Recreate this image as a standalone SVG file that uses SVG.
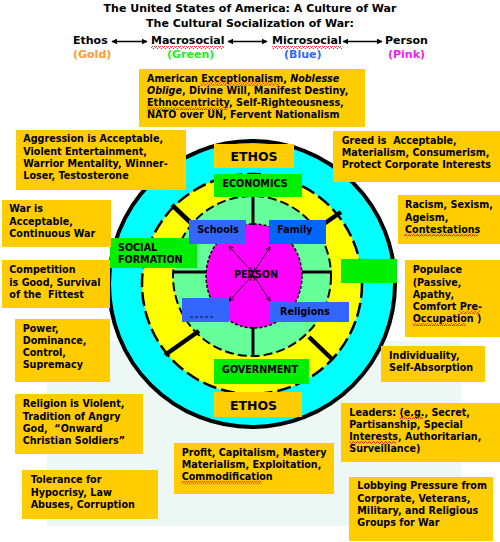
<svg xmlns="http://www.w3.org/2000/svg" width="500" height="542" viewBox="0 0 500 542">
<defs>
<style>
text{font-family:"DejaVu Sans","Verdana",sans-serif;font-weight:bold;fill:#000}
.t{font-size:11px}
.b{font-size:9.6px}
.eth{font-size:12.5px}
.gold{fill:#FFCC00}
.grn{fill:#00EE00}
.blu{fill:#3366FF}
.it{font-style:italic}
.sq{fill:url(#sq)}
.conn line{stroke:#000}
</style>
<pattern id="sq" width="4" height="3" patternUnits="userSpaceOnUse">
<path d="M0,2.4 L1,0.6 L2,0.6 L3,2.4 L4,2.4" stroke="#e01010" stroke-width="0.8" fill="none"/>
</pattern>
<marker id="ah" viewBox="0 0 10 10" refX="9" refY="5" markerWidth="6" markerHeight="6" markerUnits="userSpaceOnUse" orient="auto-start-reverse">
<path d="M0,0 L10,5 L0,10 z" fill="#000"/>
</marker>
<marker id="sh" viewBox="0 0 10 10" refX="9" refY="5" markerWidth="5" markerHeight="5" markerUnits="userSpaceOnUse" orient="auto-start-reverse">
<path d="M0,1 L10,5 L0,9" fill="none" stroke="#000" stroke-width="1.6"/>
</marker>
</defs>

<rect x="47" y="341" width="414" height="185" fill="#EDF8F4"/>

<g id="title">
<text class="t" x="250" y="12" text-anchor="middle">The United States of America: A Culture of War</text>
<text class="t" x="250" y="27" text-anchor="middle">The Cultural Socialization of War:</text>
</g>
<g id="legend-ethos"><text class="t" x="73" y="44.3">Ethos</text><text class="t" x="73" y="58.3" style="fill:#FF9933">(Gold)</text></g>
<g id="legend-macro"><text class="t" x="151" y="44.3">Macrosocial</text><rect class="sq" x="151" y="46" width="73" height="3"/><text class="t" x="167" y="58.3" style="fill:#22EE22">(Green)</text></g>
<g id="legend-micro"><text class="t" x="272" y="44.3">Microsocial</text><rect class="sq" x="272" y="46" width="70" height="3"/><text class="t" x="284" y="58.3" style="fill:#3366FF">(Blue)</text></g>
<g id="legend-person"><text class="t" x="385" y="44.3">Person</text><text class="t" x="388" y="58.3" style="fill:#EE22EE">(Pink)</text></g>

<g id="rings">
<circle cx="252" cy="284" r="143" fill="#00FFFF" stroke="#000" stroke-width="4"/>
<circle cx="252" cy="284" r="110" fill="#FFFF00"/>
<ellipse cx="252" cy="276" rx="79" ry="80" fill="#66FF99"/>
<ellipse cx="254" cy="276" rx="48" ry="52" fill="#FF00FF"/>
<g stroke="#000" stroke-width="3">
<line x1="253" y1="197" x2="253" y2="225"/>
<line x1="253" y1="327" x2="253" y2="357"/>
<line x1="174" y1="272" x2="206" y2="272"/>
<line x1="302" y1="272" x2="332" y2="272"/>
</g>
<g stroke="#000" stroke-width="4.5">
<line x1="172" y1="205" x2="191" y2="223"/>
<line x1="318" y1="228" x2="341" y2="212"/>
<line x1="165" y1="355" x2="199" y2="331"/>
<line x1="309" y1="337" x2="333" y2="360"/>
</g>
<circle cx="252" cy="284" r="110" fill="none" stroke="#000" stroke-width="2.5" stroke-dasharray="14 5"/>
<ellipse cx="252" cy="276" rx="79" ry="80" fill="none" stroke="#000" stroke-width="2" stroke-dasharray="9 4"/>
<ellipse cx="254" cy="276" rx="48" ry="52" fill="none" stroke="#000" stroke-width="1.5" stroke-dasharray="3 2"/>
</g>

<g id="connectors" class="conn">
<line x1="112" y1="41.5" x2="147" y2="41.5" stroke-width="1.5" marker-start="url(#ah)" marker-end="url(#ah)"/>
<line x1="228" y1="41.5" x2="267" y2="41.5" stroke-width="1.5" marker-start="url(#ah)" marker-end="url(#ah)"/>
<line x1="343" y1="41.5" x2="382" y2="41.5" stroke-width="1.5" marker-start="url(#ah)" marker-end="url(#ah)"/>
<line x1="252" y1="272" x2="229" y2="246" stroke-width="0.8" marker-start="url(#sh)" marker-end="url(#sh)"/>
<line x1="254" y1="272" x2="270" y2="247" stroke-width="0.8" marker-start="url(#sh)" marker-end="url(#sh)"/>
<line x1="252" y1="276" x2="229" y2="301" stroke-width="0.8" marker-start="url(#sh)" marker-end="url(#sh)"/>
<line x1="254" y1="276" x2="270" y2="301" stroke-width="0.8" marker-start="url(#sh)" marker-end="url(#sh)"/>
</g>

<g id="person"><text class="b" x="256" y="277.7" text-anchor="middle">PERSON</text></g>

<g id="ethos-top"><rect class="gold" x="214" y="144" width="80" height="24"/><text class="eth" x="254" y="160.5" text-anchor="middle">ETHOS</text></g>
<g id="economics"><rect class="grn" x="214" y="174" width="88" height="23"/><text class="b" x="255" y="186.7" text-anchor="middle">ECONOMICS</text></g>
<g id="social"><rect class="grn" x="110" y="238" width="87" height="30"/><text class="b" x="118" y="250.7">SOCIAL</text><text class="b" x="118" y="262.9">FORMATION</text></g>
<g id="schools"><rect class="blu" x="189" y="220" width="57" height="24"/><text class="b" x="218" y="233.3" text-anchor="middle">Schools</text></g>
<g id="family"><rect x="269" y="220" width="57" height="24" fill="#0066FF"/><text class="b" x="277.3" y="233.3">Family</text></g>
<g id="blank"><rect class="blu" x="182" y="298" width="47" height="24"/><line x1="190" y1="317" x2="214" y2="317" stroke="#112" stroke-width="1" stroke-dasharray="3 2"/></g>
<g id="religions"><rect class="blu" x="269" y="302" width="80" height="20"/><text class="b" x="280" y="315">Religions</text></g>
<g id="right-green"><rect class="grn" x="341" y="259" width="56" height="24"/></g>
<g id="government"><rect class="grn" x="214" y="359" width="95" height="25"/><text class="b" x="260" y="373.3" text-anchor="middle">GOVERNMENT</text></g>
<g id="ethos-bottom"><rect class="gold" x="214" y="392" width="88" height="25"/><text class="eth" x="253.5" y="409.5" text-anchor="middle">ETHOS</text></g>

<g id="box-ethos-values"><rect class="gold" x="139" y="69" width="226" height="58"/>
<text class="b" x="147" y="81.7">American Exceptionalism, <tspan class="it">Noblesse</tspan></text>
<text class="b" x="147" y="93.9"><tspan class="it">Oblige</tspan>, Divine Will, Manifest Destiny,</text>
<text class="b" x="147" y="106.1">Ethnocentricity, Self-Righteousness,</text>
<text class="b" x="147" y="118.3">NATO over UN, Fervent Nationalism</text>
<rect class="sq" x="200" y="82.6" width="80" height="3"/><rect class="sq" x="147" y="107" width="81" height="3"/></g>

<g id="box-aggression"><rect class="gold" x="16" y="130" width="170" height="60"/>
<text class="b" x="23.3" y="142.3">Aggression is Acceptable,</text>
<text class="b" x="23.3" y="154.5">Violent Entertainment,</text>
<text class="b" x="23.3" y="166.7">Warrior Mentality, Winner-</text>
<text class="b" x="23.3" y="178.9">Loser, Testosterone</text></g>

<g id="box-greed"><rect class="gold" x="333" y="131" width="167" height="51"/>
<text class="b" x="341.7" y="144">Greed is&#160; Acceptable,</text>
<text class="b" x="341.7" y="156.2">Materialism, Consumerism,</text>
<text class="b" x="341.7" y="168.4">Protect Corporate Interests</text></g>

<g id="box-war"><rect class="gold" x="2" y="200" width="109" height="47"/>
<text class="b" x="9.3" y="212.3">War is</text>
<text class="b" x="9.3" y="224.5">Acceptable,</text>
<text class="b" x="9.3" y="236.7">Continuous War</text></g>

<g id="box-racism"><rect class="gold" x="398" y="195" width="102" height="49"/>
<text class="b" x="405" y="208.3">Racism, Sexism,</text>
<text class="b" x="405" y="220.5">Ageism,</text>
<text class="b" x="405" y="232.7">Contestations</text>
<rect class="sq" x="404" y="233.5" width="74" height="3"/></g>

<g id="box-competition"><rect class="gold" x="2" y="260" width="108" height="48"/>
<text class="b" x="9.3" y="273.3">Competition</text>
<text class="b" x="9.3" y="285.5">is Good, Survival</text>
<text class="b" x="9.3" y="297.7">of the&#160; Fittest</text></g>

<g id="box-populace"><rect class="gold" x="405" y="260" width="95" height="77"/>
<text class="b" x="412.7" y="273.3">Populace</text>
<text class="b" x="412.7" y="285.5">(Passive,</text>
<text class="b" x="412.7" y="297.7">Apathy,</text>
<text class="b" x="412.7" y="309.9">Comfort Pre-</text>
<text class="b" x="412.7" y="322.1">Occupation )</text>
<rect class="sq" x="459" y="310.8" width="21" height="3"/><rect class="sq" x="412.7" y="323" width="53" height="3"/></g>

<g id="box-power"><rect class="gold" x="15" y="319" width="95" height="63"/>
<text class="b" x="22.7" y="331.7">Power,</text>
<text class="b" x="22.7" y="343.9">Dominance,</text>
<text class="b" x="22.7" y="356.1">Control,</text>
<text class="b" x="22.7" y="368.3">Supremacy</text></g>

<g id="box-individuality"><rect class="gold" x="381" y="346" width="104" height="36"/>
<text class="b" x="389" y="359">Individuality,</text>
<text class="b" x="389" y="371.2">Self-Absorption</text></g>

<g id="box-religion"><rect class="gold" x="15" y="394" width="128" height="60"/>
<text class="b" x="22.7" y="407.3">Religion is Violent,</text>
<text class="b" x="22.7" y="419.5">Tradition of Angry</text>
<text class="b" x="22.7" y="431.7">God,&#160; “Onward</text>
<text class="b" x="22.7" y="443.9">Christian Soldiers”</text></g>

<g id="box-leaders"><rect class="gold" x="341" y="403" width="159" height="59"/>
<text class="b" x="349.3" y="415.7">Leaders: (e.g., Secret,</text>
<text class="b" x="349.3" y="427.9">Partisanship, Special</text>
<text class="b" x="349.3" y="440.1">Interests, Authoritarian,</text>
<text class="b" x="349.3" y="452.3">Surveillance)</text>
<rect class="sq" x="400" y="416.3" width="23" height="3"/><rect class="sq" x="349.3" y="440.9" width="47" height="3"/></g>

<g id="box-profit"><rect class="gold" x="174" y="443" width="160" height="51"/>
<text class="b" x="181.7" y="456">Profit, Capitalism, Mastery</text>
<text class="b" x="181.7" y="468.2">Materialism, Exploitation,</text>
<text class="b" x="181.7" y="480.4">Commodification</text>
<rect class="sq" x="181.7" y="481.2" width="80" height="3"/></g>

<g id="box-tolerance"><rect class="gold" x="22" y="470" width="136" height="49"/>
<text class="b" x="30.7" y="483.3">Tolerance for</text>
<text class="b" x="30.7" y="495.5">Hypocrisy, Law</text>
<text class="b" x="30.7" y="507.7">Abuses, Corruption</text></g>

<g id="box-lobbying"><rect class="gold" x="349" y="477" width="144" height="64"/>
<text class="b" x="357.3" y="489.3">Lobbying Pressure from</text>
<text class="b" x="357.3" y="501.5">Corporate, Veterans,</text>
<text class="b" x="357.3" y="513.7">Military, and Religious</text>
<text class="b" x="357.3" y="525.9">Groups for War</text></g>
</svg>
